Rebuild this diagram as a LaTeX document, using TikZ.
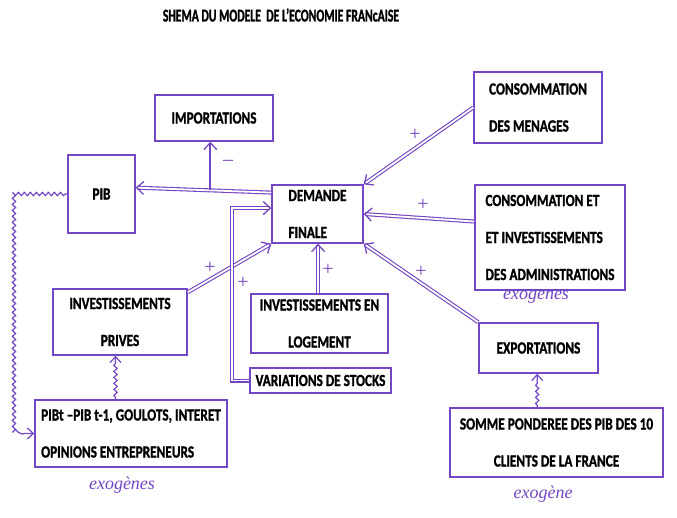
\documentclass[tikz,border=0pt]{standalone}
\usepackage{fontspec}
\setmainfont{Carlito}
\newfontfamily\labfont[FakeStretch=0.78,BoldFeatures={FakeBold=1.2}]{Carlito}
\newfontfamily\ttlfont[FakeStretch=0.65,BoldFeatures={FakeBold=1.2}]{Carlito}
\newfontfamily\handfont{Liberation Serif}
\usetikzlibrary{arrows.meta,decorations.pathmorphing,calc}
\definecolor{pur}{RGB}{115,70,195}
\begin{document}
\begin{tikzpicture}[x=1pt,y=-1pt,
  box/.style={draw=pur, line width=1.5pt, rectangle, inner sep=0pt,
    font=\labfont\bfseries\fontsize{17}{37}\selectfont, text=black},
  dbl/.style={draw=pur, double=white, double distance=1.8pt, line width=1.1pt,
    -{Straight Barb[length=7pt,width=13pt,line width=1.3pt]}},
  sgl/.style={draw=pur, line width=1.6pt, -{Straight Barb[length=7pt,width=13pt,line width=1.3pt]}},
  wavy/.style={draw=pur, line width=1.2pt, decorate,
    decoration={snake, amplitude=1.6pt, segment length=6pt, pre length=2pt, post length=7pt},
    -{Straight Barb[length=6pt,width=11pt,line width=1.2pt]}},
  sgn/.style={text=pur, font=\handfont\fontsize{20}{20}\selectfont},
  hand/.style={text=pur, font=\handfont\itshape\fontsize{18}{18}\selectfont},
  ttl/.style={font=\ttlfont\bfseries\fontsize{18}{20}\selectfont, text=black}]
\fill[white] (0,0) rectangle (677,517);
\useasboundingbox (0,0) rectangle (677,517);

\node[ttl] (title) at (281,15) {SHEMA DU MODELE\ \ DE L’ECONOMIE FRANcAISE};

\node[box, minimum width=118, minimum height=46] (imp) at (214,118) {IMPORTATIONS};
\node[box, minimum width=67, minimum height=78] (pib) at (101.5,194) {PIB};
\node[box, minimum width=91, minimum height=58, align=left] (dem) at (317.5,214) {DEMANDE\\FINALE};
\node[box, minimum width=128, minimum height=71, align=left] (men) at (538,107.5) {CONSOMMATION\\DES MENAGES};
\node[box, minimum width=150, minimum height=105, align=left] (adm) at (550,237.5) {CONSOMMATION ET\\ET INVESTISSEMENTS\\DES ADMINISTRATIONS};
\node[box, minimum width=119, minimum height=50] (exp) at (538.5,348) {EXPORTATIONS};
\node[box, minimum width=213, minimum height=69, align=center] (som) at (556.5,442.5) {SOMME PONDEREE DES PIB DES 10\\CLIENTS DE LA FRANCE};
\node[box, minimum width=137, minimum height=59, align=center] (log) at (319.5,323.5) {INVESTISSEMENTS EN\\LOGEMENT};
\node[box, minimum width=141, minimum height=25] (var) at (320.5,380.5) {VARIATIONS DE STOCKS};
\node[box, minimum width=134, minimum height=66, align=center] (priv) at (120,322) {INVESTISSEMENTS\\PRIVES};
\node[box, minimum width=192, minimum height=67, align=left] (pibt) at (131,433.5) {PIBt –PIB t-1, GOULOTS, INTERET\\OPINIONS ENTREPRENEURS};

% connectors
\coordinate (ds) at ($(dem.north west)!0.14!(dem.south west)$);
\coordinate (pe) at ($(pib.north east)!0.42!(pib.south east)$);
\draw[dbl] (ds) -- (pe);
\coordinate (j) at ($(ds)!0.45!(pe)$);
\draw[sgl] (j) -- (j |- imp.south);
\draw[dbl] (men.west) -- (dem.north east);
\draw[dbl] ($(adm.north west)!0.35!(adm.south west)$) -- ($(dem.north east)!0.5!(dem.south east)$);
\draw[dbl] (exp.north west) -- (dem.south east);
\draw[dbl] ($(priv.north east)!0.06!(priv.south east)$) -- (dem.south west);
\coordinate (lt) at ($(log.north west)!0.49!(log.north east)$);
\draw[dbl] (lt) -- (lt |- dem.south);
\draw[dbl] (var.west) -- ++(-17,0) |- ($(dem.north west)!0.4!(dem.south west)$);

\draw[wavy] (pib.west) -| ($(pibt.west)+(-20,0)$) -- (pibt.west);
\coordinate (pt) at ($(pibt.north west)!0.42!(pibt.north east)$);
\draw[wavy] (pt) -- (pt |- priv.south);
\coordinate (st) at ($(som.north west)!0.41!(som.north east)$);
\draw[wavy] (st) -- (st |- exp.south);

% signs
\node[sgn] (m1) at (228,163) {–};
\node[sgn] (p1) at (415,135) {+};
\node[sgn] (p2) at (423,205) {+};
\node[sgn] (p3) at (421,272) {+};
\node[sgn] (p4) at (210,268) {+};
\node[sgn] (p5) at (328,270) {+};
\node[sgn] (p6) at (243,283) {+};

\node[hand] (ex1) at (536,297) {exogenes};
\node[hand] (ex2) at (122,485) {exogènes};
\node[hand] (ex3) at (543,494) {exogène};
\end{tikzpicture}
\end{document}
